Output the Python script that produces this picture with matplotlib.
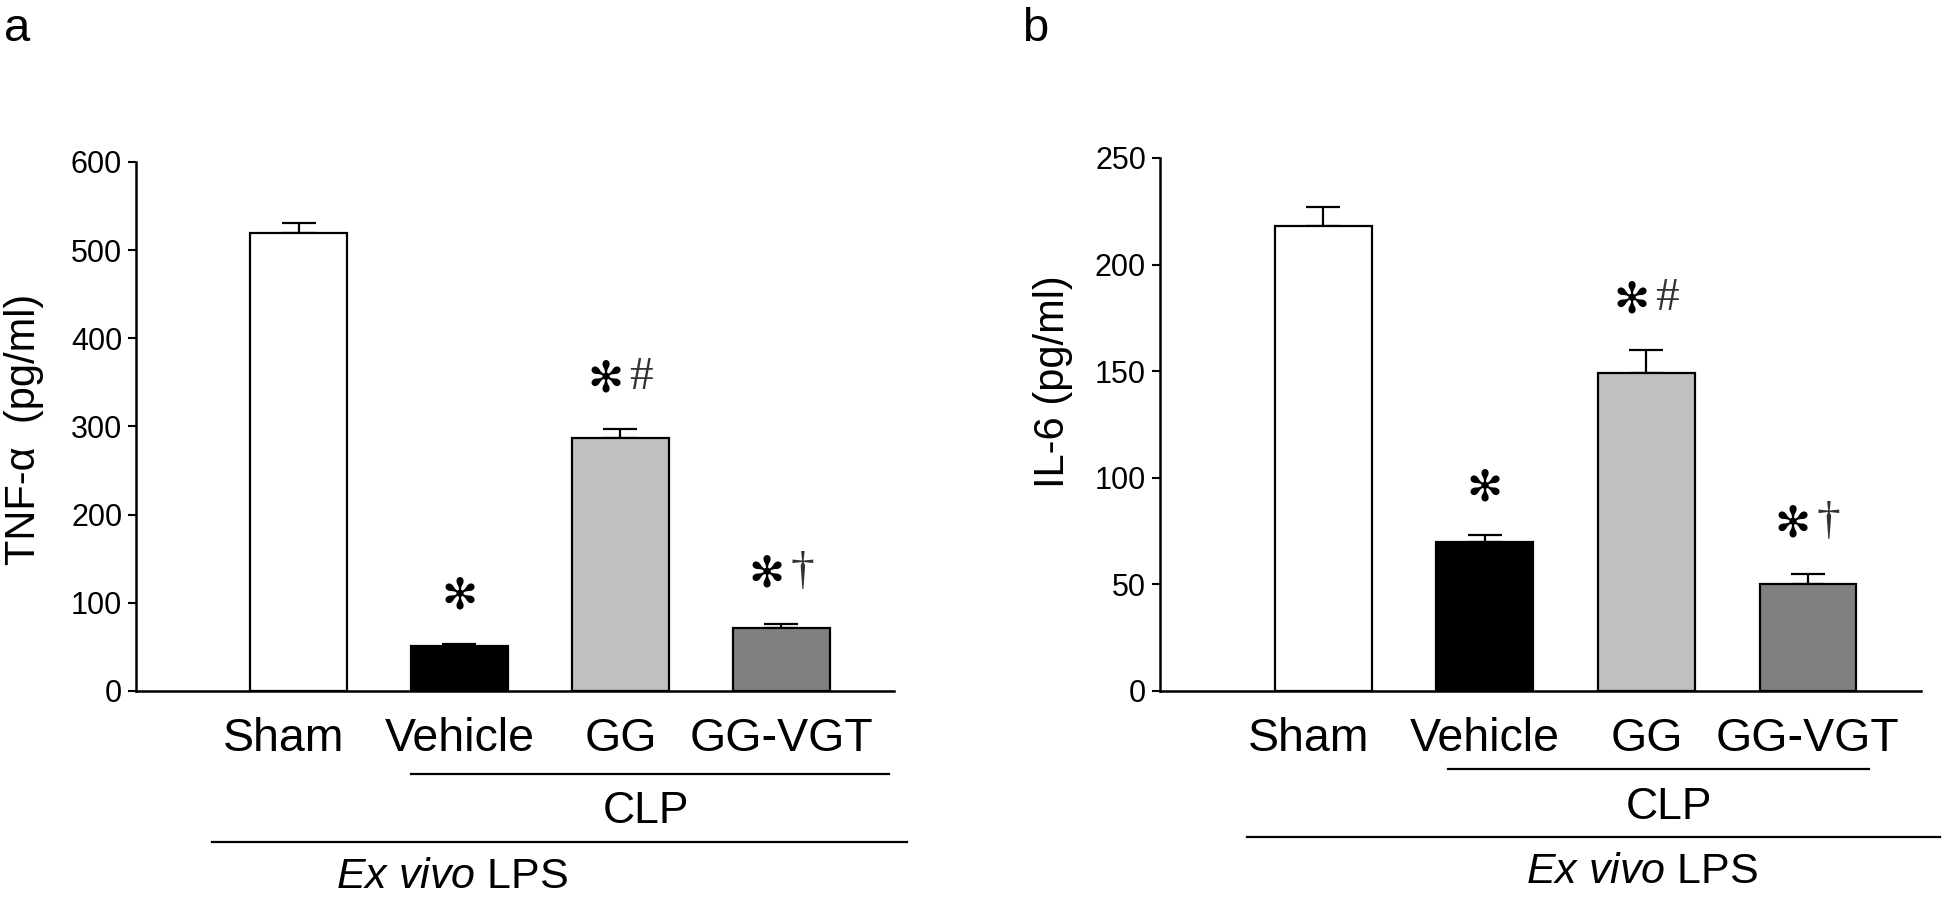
import matplotlib
matplotlib.use("Agg")
import matplotlib.pyplot as plt
import matplotlib.transforms as mtransforms

plt.rcParams['font.family'] = ['Liberation Sans', 'DejaVu Sans']
plt.rcParams['mathtext.fontset'] = 'custom'
plt.rcParams['mathtext.rm'] = 'Liberation Sans'
plt.rcParams['mathtext.it'] = 'Liberation Sans:italic'

# data
groups = ['Sham', 'Vehicle', 'GG', 'GG-VGT']
bar_colors = ['white', 'black', '#c0c0c0', '#808080']

tnf_mean = [520, 51, 287, 71]
tnf_err = [11, 2.5, 10, 5]
tnf_sig = ['', '*', '*#', '*†']

il6_mean = [218, 70, 149, 50]
il6_err = [9, 3, 11, 5]
il6_sig = ['', '*', '*#', '*†']

STAR = '✻'


def draw_panel(ax, means, errs, sig, ymax, ystep, ylabel, label_xy, letter,
               clp_line, clp_text_xy, lps_line, lps_text_xy):
    x = list(range(len(groups)))
    ax.bar(x, means, width=0.6, color=bar_colors, edgecolor='black',
           linewidth=1.6, zorder=3)
    ax.errorbar(x, means, yerr=[[0] * len(errs), errs], fmt='none',
                ecolor='black', elinewidth=1.6, capsize=12, capthick=1.6, zorder=2)

    ax.set_xlim(-1.01, 3.70)
    ax.set_ylim(0, ymax)
    ax.set_yticks(range(0, ymax + 1, ystep))
    ax.set_xticks(x)
    ax.set_xticklabels(groups, fontsize=33.5)
    ax.tick_params(axis='x', length=0, pad=19)
    ax.tick_params(axis='y', labelsize=22, length=6, width=1.5, pad=4, direction='out')
    for s in ['top', 'right']:
        ax.spines[s].set_visible(False)
    for s in ['left', 'bottom']:
        ax.spines[s].set_linewidth(1.8)

    # the Sham label sits a little left of its bar in the original
    sham = ax.get_xticklabels()[0]
    sham.set_transform(sham.get_transform() +
                       mtransforms.ScaledTranslation(-0.15, 0, ax.figure.dpi_scale_trans))

    ax.text(label_xy[0], label_xy[1], ylabel, transform=ax.transAxes,
            rotation=90, ha='center', va='center', fontsize=30)

    # significance marks above the error bars
    for i, s in enumerate(sig):
        if not s:
            continue
        top = means[i] + errs[i]
        if len(s) == 1:
            ax.annotate(STAR, xy=(i, top), xytext=(0, 33), textcoords='offset points',
                        ha='center', va='center', fontsize=31)
        else:
            ax.annotate(STAR, xy=(i, top), xytext=(-11, 35), textcoords='offset points',
                        ha='center', va='center', fontsize=31)
            ax.annotate(s[1], xy=(i, top), xytext=(15, 37), textcoords='offset points',
                        ha='center', va='center', fontsize=34,
                        family='Liberation Serif', color='#333333')

    tr = ax.get_xaxis_transform()
    ax.plot(clp_line[:2], [clp_line[2]] * 2, color='black', lw=1.6,
            transform=tr, clip_on=False)
    ax.text(clp_text_xy[0], clp_text_xy[1], 'CLP', transform=tr,
            ha='center', va='center', fontsize=32)
    ax.plot(lps_line[:2], [lps_line[2]] * 2, color='black', lw=1.6,
            transform=tr, clip_on=False)
    ax.text(lps_text_xy[0], lps_text_xy[1], r'$\mathit{Ex\ vivo}$ LPS', transform=tr,
            ha='center', va='center', fontsize=31)

    ax.figure.text(letter[1], letter[2], letter[0], fontsize=34,
                   ha='center', va='center')


fig = plt.figure(figsize=(19.46, 8.97), dpi=100)
ax1 = fig.add_axes([0.0699, 0.2297, 0.3895, 0.5897])
ax2 = fig.add_axes([0.5961, 0.2297, 0.3911, 0.5942])

draw_panel(ax1, tnf_mean, tnf_err, tnf_sig, 600, 100, 'TNF-α  (pg/ml)',
           (-0.148, 0.495), ('a', 0.009, 0.968),
           (0.70, 3.67, -0.157), (2.16, -0.227),
           (-0.54, 3.78, -0.285), (0.95, -0.352))
draw_panel(ax2, il6_mean, il6_err, il6_sig, 250, 50, 'IL-6 (pg/ml)',
           (-0.141, 0.58), ('b', 0.532, 0.968),
           (0.77, 3.38, -0.146), (2.14, -0.218),
           (-0.47, 3.82, -0.274), (1.97, -0.34))

fig.savefig('out.png', dpi=100)
